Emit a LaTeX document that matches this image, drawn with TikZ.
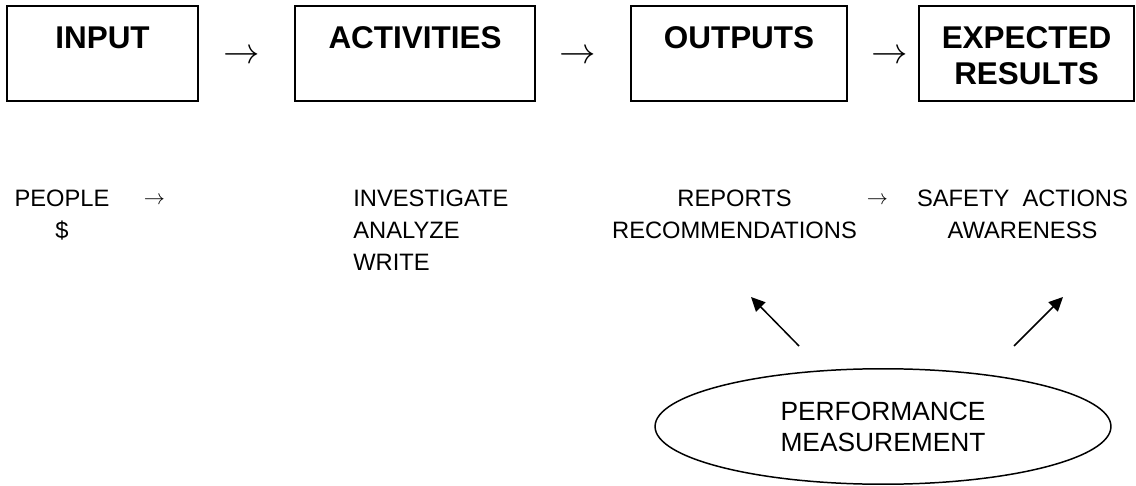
\documentclass[tikz,border=0pt]{standalone}
\usepackage{fontspec}
\setmainfont{Liberation Sans}
\usetikzlibrary{arrows.meta,shapes.geometric}
% strut for the first line of a stage title
\newcommand\stagetop{\rule{0pt}{15pt}}
\tikzset{
  stagebox/.style={rectangle,draw=black,line width=1.1pt,align=center,
    font=\fontsize{17.9}{20.8}\selectfont\bfseries,
    minimum height=1.9cm,inner sep=0pt},
  flowtext/.style={font=\fontsize{13.5}{18.4}\selectfont,inner sep=0pt},
  stagearr/.style={font=\fontsize{20}{20}\selectfont,inner sep=0pt,anchor=base},
  flowarr/.style={font=\fontsize{12.5}{12.5}\selectfont,inner sep=0pt,anchor=base},
  measure/.style={ellipse,draw=black,line width=0.85pt,align=center,
    font=\fontsize{15}{17.6}\selectfont,
    minimum width=9.12cm,minimum height=2.31cm,inner sep=0pt},
  feedarr/.style={-{Triangle[length=8pt,width=7.5pt]},line width=0.85pt},
}

\begin{document}
\begin{tikzpicture}[x=0.02cm,y=-0.02cm]
  \useasboundingbox (0,0) rectangle (1136,486);

  % top row of stages
  \node[stagebox,minimum width=3.82cm] (inp) at (102.5,53.5) {\stagetop INPUT\\\mbox{}};
  \node[stagebox,minimum width=4.8cm]  (act) at (415,53.5)   {\stagetop ACTIVITIES\\\mbox{}};
  \node[stagebox,minimum width=4.32cm] (out) at (739,53.5)   {\stagetop OUTPUTS\\\mbox{}};
  \node[stagebox,minimum width=4.3cm]  (res) at (1026.5,53.5) {\stagetop EXPECTED\\RESULTS};

  \node[stagearr] (a1) at (241.5,64) {$\rightarrow$};
  \node[stagearr] (a2) at (577.5,64) {$\rightarrow$};
  \node[stagearr] (a3) at (889.5,64) {$\rightarrow$};

  % what goes into each stage (base = last line)
  \node[flowtext,align=center,anchor=base] (people) at (62,239) {PEOPLE\\\$};
  \node[flowarr] (b1) at (154.5,205) {$\rightarrow$};
  \node[flowtext,align=left,anchor=base west] (tasks) at (353,271) {INVESTIGATE\\ANALYZE\\WRITE};
  \node[flowtext,align=center,anchor=base] (reports) at (734.5,239) {REPORTS\\RECOMMENDATIONS};
  \node[flowarr] (b2) at (877.5,205) {$\rightarrow$};
  \node[flowtext,align=center,anchor=base] (safety) at (1022.5,239) {SAFETY\ \ ACTIONS\\AWARENESS};

  % measurement feeding back
  \node[measure] (perf) at (883,426.5) {PERFORMANCE\\MEASUREMENT};
  \coordinate (perfL) at (799,346);
  \coordinate (perfR) at (1014,346);
  \coordinate (repTip) at (751,297);
  \coordinate (safTip) at (1063,297);
  \draw[feedarr] (perfL) -- (repTip);
  \draw[feedarr] (perfR) -- (safTip);
\end{tikzpicture}
\end{document}
